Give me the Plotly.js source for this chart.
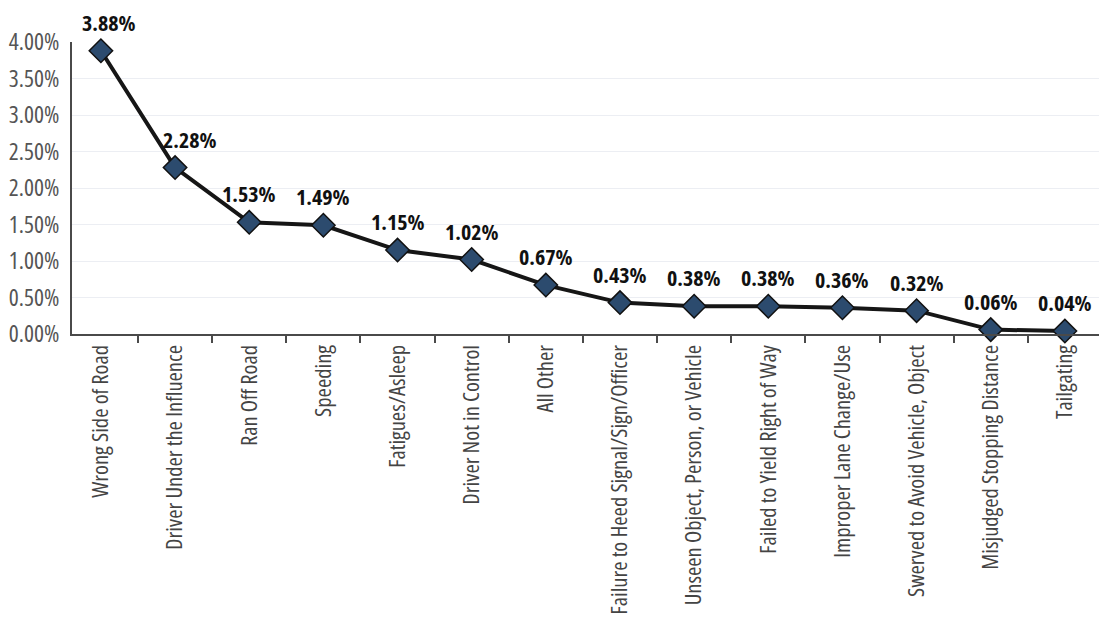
<!DOCTYPE html>
<html>
<head>
<meta charset="utf-8">
<script src="https://cdn.plot.ly/plotly-3.0.1.min.js"></script>
<style>
html,body{margin:0;padding:0;background:#fff;}
#chart{width:1099px;height:625px;}
text{font-stretch:condensed !important;}
</style>
</head>
<body>
<div id="chart"></div>
<script>
const categories = [
  "Wrong Side of Road",
  "Driver Under the Influence",
  "Ran Off Road",
  "Speeding",
  "Fatigues/Asleep",
  "Driver Not in Control",
  "All Other",
  "Failure to Heed Signal/Sign/Officer",
  "Unseen Object, Person, or Vehicle",
  "Failed to Yield Right of Way",
  "Improper Lane Change/Use",
  "Swerved to Avoid Vehicle, Object",
  "Misjudged Stopping Distance",
  "Tailgating"
];
const percentValues = [3.88, 2.28, 1.53, 1.49, 1.15, 1.02, 0.67, 0.43, 0.38, 0.38, 0.36, 0.32, 0.06, 0.04];
const yTickValues = [0, 0.5, 1, 1.5, 2, 2.5, 3, 3.5, 4];
const yTickLabels = ["0.00%", "0.50%", "1.00%", "1.50%", "2.00%", "2.50%", "3.00%", "3.50%", "4.00%"];

const FONT = "Open Sans, Roboto, sans-serif";

const trace = {
  type: "scatter",
  mode: "lines+markers",
  x: categories,
  y: percentValues,
  line: {color: "#161616", width: 4},
  marker: {symbol: "diamond", size: 18, color: "#2c4b6e", line: {color: "#111", width: 1.5}},
  cliponaxis: false,
  hoverinfo: "skip"
};

// small label nudges for the two steep segments at the start of the line
const labelNudge = (i) => (i === 0 ? 8 : i === 1 ? 15 : 0);

const annotations = categories.map((c, i) => ({
  x: c,
  y: percentValues[i],
  xref: "x",
  yref: "y",
  text: "<b>" + percentValues[i].toFixed(2) + "%</b>",
  showarrow: false,
  yshift: 29,
  xshift: labelNudge(i),
  font: {family: FONT, size: 22, color: "#111"}
}));

const layout = {
  width: 1099,
  height: 625,
  margin: {l: 72, r: 0, t: 42, b: 291},
  paper_bgcolor: "#fff",
  plot_bgcolor: "#fff",
  showlegend: false,
  annotations: annotations,
  xaxis: {
    type: "category",
    range: [-0.39, 13.46],
    showline: true,
    linecolor: "#4a4a4a",
    linewidth: 2,
    showgrid: false,
    ticks: "outside",
    tickson: "boundaries",
    ticklen: 7,
    tickwidth: 2,
    tickcolor: "#4a4a4a",
    tickangle: -90,
    tickfont: {family: FONT, size: 22.5, color: "#444"},
    automargin: false
  },
  yaxis: {
    range: [0, 4],
    tickvals: yTickValues,
    ticktext: yTickLabels,
    showline: true,
    linecolor: "#4a4a4a",
    linewidth: 2,
    showgrid: true,
    gridcolor: "#eceef3",
    gridwidth: 1,
    zeroline: false,
    ticks: "",
    ticklabelstandoff: 6,
    tickfont: {family: FONT, size: 23.5, color: "#555"},
    automargin: false
  }
};

Plotly.newPlot("chart", [trace], layout, {displayModeBar: false, staticPlot: true});
</script>
</body>
</html>
